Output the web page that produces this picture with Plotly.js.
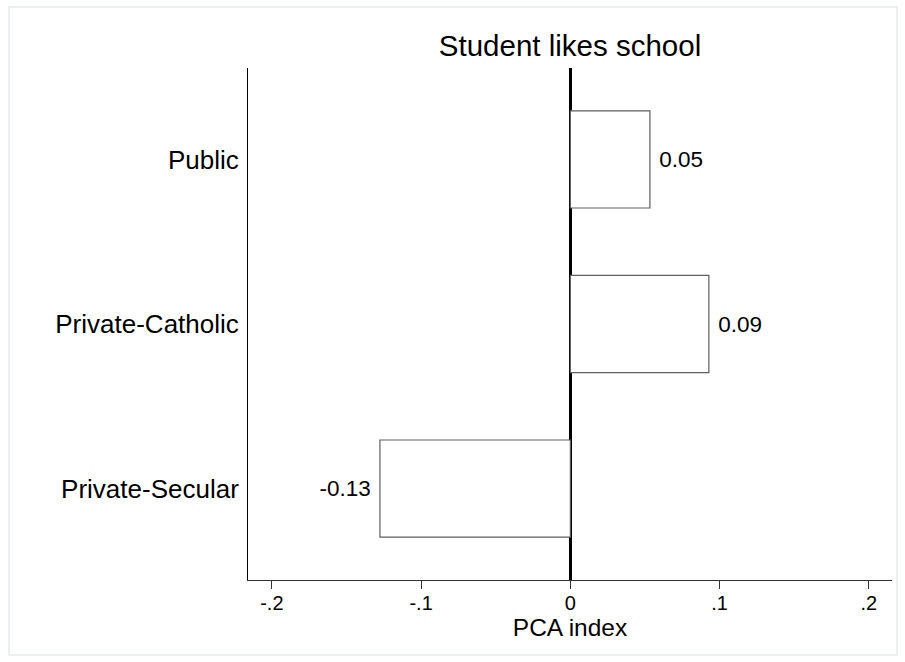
<!DOCTYPE html>
<html>
<head>
<meta charset="utf-8">
<script src="https://cdn.plot.ly/plotly-3.0.1.min.js"></script>
<style>
  html, body { margin: 0; padding: 0; background: #ffffff; }
  #chart { width: 905px; height: 662px; }
</style>
</head>
<body>
<div id="chart"></div>
<script>
// School types, top to bottom
const categories = ["Public", "Private-Catholic", "Private-Secular"];
// Mean PCA index of "student likes school" by school type
const pcaValues = [0.0533, 0.0928, -0.1276];
// Horizontal axis ticks
const tickValues = [-0.2, -0.1, 0, 0.1, 0.2];
const tickLabels = ["-.2", "-.1", "0", ".1", ".2"];

const FONT = "Liberation Sans, Arial, Helvetica, sans-serif";

// Value labels: two decimals, padded away from the bar end
const barText = pcaValues.map(v => v >= 0 ? " " + v.toFixed(2) : v.toFixed(2) + " ");

const trace = {
  type: "bar",
  orientation: "h",
  x: pcaValues,
  y: categories,
  width: 0.59,
  marker: { color: "#ffffff", line: { color: "#5f5f5f", width: 1.2 } },
  text: barText,
  textposition: "outside",
  textfont: { family: FONT, size: 22.5, color: "#000000" },
  cliponaxis: false,
  hoverinfo: "x+y"
};

const layout = {
  width: 905,
  height: 662,
  paper_bgcolor: "#ffffff",
  plot_bgcolor: "#ffffff",
  margin: { l: 248, r: 13, t: 68, b: 82 },
  showlegend: false,
  font: { family: FONT, color: "#000000" },
  title: {
    text: "Student likes school",
    font: { family: FONT, size: 29.5, color: "#000000" },
    x: 0.5, xref: "paper", xanchor: "center",
    y: 1 - 46 / 662, yref: "container", yanchor: "middle"
  },
  xaxis: {
    range: [-0.216, 0.2155],
    tickvals: tickValues,
    ticktext: tickLabels,
    ticks: "outside",
    ticklen: 8,
    tickwidth: 1,
    tickcolor: "#333333",
    tickfont: { family: FONT, size: 20, color: "#000000" },
    ticklabelstandoff: -3,
    showline: true,
    linecolor: "#333333",
    linewidth: 1.3,
    showgrid: false,
    zeroline: true,
    zerolinecolor: "#000000",
    zerolinewidth: 3,
    layer: "above traces",
    title: { text: "PCA index", font: { family: FONT, size: 24.5, color: "#000000" }, standoff: 2 }
  },
  yaxis: {
    type: "category",
    categoryorder: "array",
    categoryarray: categories,
    range: [2.556, -0.556],
    showline: true,
    linecolor: "#000000",
    linewidth: 1,
    ticks: "",
    ticklabelstandoff: 3,
    tickfont: { family: FONT, size: 26, color: "#000000" },
    showgrid: false,
    zeroline: false
  },
  shapes: [{
    type: "rect",
    xref: "paper", yref: "paper",
    x0: (9 - 248) / 644, x1: (897 - 248) / 644,
    y0: (580 - 655) / 512, y1: (580 - 7) / 512,
    line: { color: "#e6ecec", width: 1.5 },
    fillcolor: "rgba(0,0,0,0)",
    layer: "below"
  }]
};

Plotly.newPlot("chart", [trace], layout, { displayModeBar: false, staticPlot: true });
</script>
</body>
</html>
